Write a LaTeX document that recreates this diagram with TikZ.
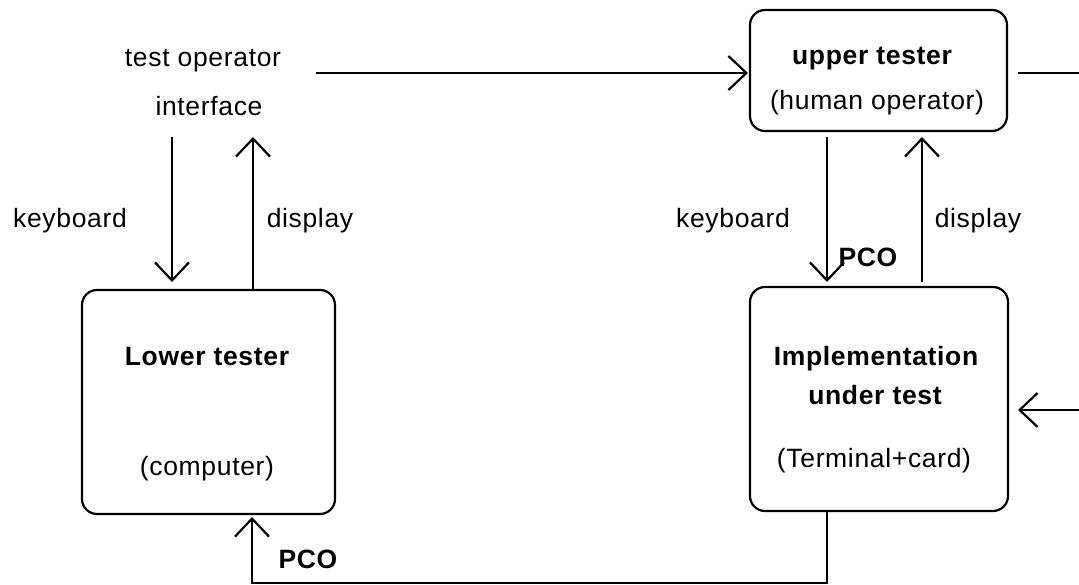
\documentclass[tikz,border=0pt]{standalone}
\usepackage{fontspec}
\setmainfont{Liberation Sans}[LetterSpace=2.5]
\usetikzlibrary{arrows.meta}
\begin{document}
\begin{tikzpicture}[x=1pt,y=-1pt,
  box/.style={draw,line width=2.2pt,rounded corners=15pt},
  lbl/.style={anchor=base,inner sep=0pt,font=\fontsize{26.5}{32}\selectfont},
  blbl/.style={lbl,font=\fontsize{26.5}{32}\selectfont\bfseries},
  conn/.style={line width=2.2pt,-{Straight Barb[length=18pt,width=34pt,line width=2.2pt]}},
  plain/.style={line width=2.2pt}]
\useasboundingbox (0,0) rectangle (1079,585);
% boxes
\draw[box] (750,10) rectangle (1007,131);
\draw[box] (750,287) rectangle (1008,511);
\draw[box] (82,290) rectangle (335,514);
% labels
\node[lbl] (top1) at (203,67) {test operator};
\node[lbl] (top2) at (209,116) {interface};
\node[lbl] (kb1) at (70,228) {keyboard};
\node[lbl] (dp1) at (310,228) {display};
\node[lbl] (kb2) at (733,228) {keyboard};
\node[lbl] (dp2) at (978,228) {display};
\node[blbl] (ut) at (872,65) {upper tester};
\node[lbl] (ho) at (877,110) {(human operator)};
\node[blbl] (imp) at (876,366) {Implementation};
\node[blbl] (uts) at (875,404) {under test};
\node[lbl] (tc) at (874,467) {(Terminal+card)};
\node[blbl] (lt) at (207,366) {Lower tester};
\node[lbl] (cp) at (207,475) {(computer)};
\node[blbl] (pco1) at (308,568) {PCO};
\node[blbl] (pco2) at (868,267) {PCO};
% connectors
\coordinate (a1) at (316,73);
\coordinate (a2) at (748,73);
\draw[conn] (a1) -- (a2);
\coordinate (r1) at (1018,73);
\coordinate (r2) at (1079,73);
\draw[plain] (r1) -- (r2);
\coordinate (i1) at (1079,410);
\coordinate (i2) at (1018,410);
\draw[conn] (i1) -- (i2);
\coordinate (k1a) at (172,137);
\coordinate (k1b) at (172,282);
\draw[conn] (k1a) -- (k1b);
\coordinate (d1a) at (253,290);
\coordinate (d1b) at (253,137);
\draw[conn] (d1a) -- (d1b);
\coordinate (k2a) at (827,137);
\coordinate (k2b) at (827,282);
\draw[conn] (k2a) -- (k2b);
\coordinate (d2a) at (922,282);
\coordinate (d2b) at (922,137);
\draw[conn] (d2a) -- (d2b);
\coordinate (p1) at (827,511);
\coordinate (p2) at (827,583);
\coordinate (p3) at (252,583);
\coordinate (p4) at (252,517);
\draw[conn] (p1) -- (p2) -- (p3) -- (p4);
\end{tikzpicture}
\end{document}
